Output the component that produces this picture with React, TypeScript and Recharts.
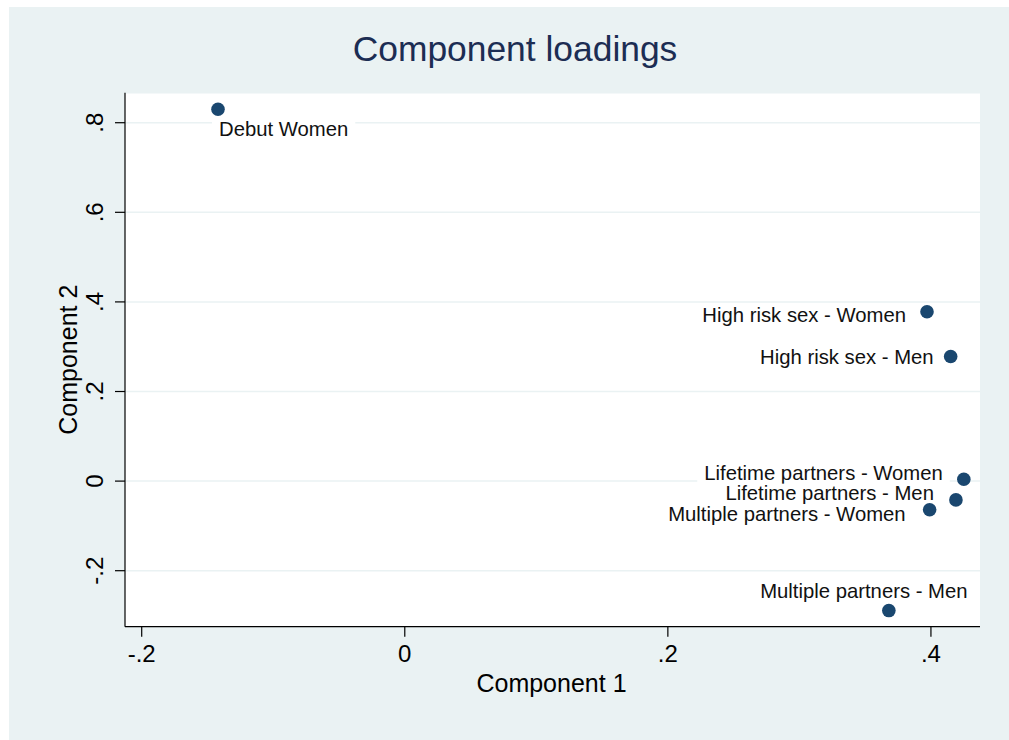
import React from "react";
import { ScatterChart, Scatter, XAxis, YAxis, CartesianGrid, Label } from "recharts";

// ---- data ----
const variableNames = [
  "Debut Women",
  "High risk sex - Women",
  "High risk sex - Men",
  "Lifetime partners - Women",
  "Lifetime partners - Men",
  "Multiple partners - Women",
  "Multiple partners - Men",
];
const component1 = [-0.142, 0.397, 0.415, 0.425, 0.419, 0.399, 0.368];
const component2 = [0.83, 0.378, 0.278, 0.004, -0.042, -0.064, -0.289];
const xTicks = [-0.2, 0, 0.2, 0.4];
const yTicks = [-0.2, 0, 0.2, 0.4, 0.6, 0.8];

// ---- label placement (style) ----
const labelAnchor = ["start", "end", "end", "end", "end", "end", "middle"];
const labelDx = [1, -21, -17, -21, -22, -24, -25];
const labelDy = [19, 3, 0, -7, -7, 3.5, -19.5];

const FONT = "'Liberation Sans', Arial, Helvetica, sans-serif";
const LABEL_FS = 20.3;
const TICK_FS = 24;
const AXIS_TITLE_FS = 25;
const DOT_COLOR = "#1a476f";
const BG = "#eaf2f3";

const points = variableNames.map((name, idx) => ({
  name,
  idx,
  x: component1[idx],
  y: component2[idx],
}));

const fmt = (v: number) => {
  if (Math.abs(v) < 1e-9) return "0";
  return v.toFixed(1).replace(/^(-?)0\./, "$1.");
};

let ctx: CanvasRenderingContext2D | null = null;
function textWidth(s: string, size: number) {
  if (!ctx && typeof document !== "undefined") {
    ctx = document.createElement("canvas").getContext("2d");
  }
  if (ctx) {
    ctx.font = `${size}px "Liberation Sans", Arial, sans-serif`;
    return ctx.measureText(s).width;
  }
  return s.length * size * 0.52;
}

const LabelShape = (props: any) => {
  const { cx, cy } = props;
  const p = props.payload ?? props;
  const i = p.idx;
  const w = textWidth(p.name, LABEL_FS);
  const anchor = labelAnchor[i];
  const tx = cx + labelDx[i];
  const mid = cy + labelDy[i];
  const baseline = mid + 0.358 * LABEL_FS;
  const capTop = baseline - 0.716 * LABEL_FS;
  const left = anchor === "start" ? tx : anchor === "end" ? tx - w : tx - w / 2;
  const pad = 7;
  return (
    <g>
      <rect
        x={left - pad}
        y={capTop - 2}
        width={w + 2 * pad}
        height={baseline + 3.5 - (capTop - 2)}
        fill="#ffffff"
      />
      <text
        x={tx}
        y={baseline}
        textAnchor={anchor as any}
        fontFamily={FONT}
        fontSize={LABEL_FS}
        fill="#111111"
      >
        {p.name}
      </text>
    </g>
  );
};

const DotShape = (props: any) => {
  const { cx, cy } = props;
  return <circle cx={cx} cy={cy} r={6.8} fill={DOT_COLOR} />;
};

const XTick = (props: any) => {
  const { x, y, payload } = props;
  return (
    <text x={x} y={y + 25.5} textAnchor="middle" fontFamily={FONT} fontSize={TICK_FS} fill="#000">
      {fmt(payload.value)}
    </text>
  );
};

const YTick = (props: any) => {
  const { x, y, payload } = props;
  const bx = x - 11.7;
  return (
    <text
      x={bx}
      y={y}
      textAnchor="middle"
      transform={`rotate(-90, ${bx}, ${y})`}
      fontFamily={FONT}
      fontSize={TICK_FS}
      fill="#000"
    >
      {fmt(payload.value)}
    </text>
  );
};

const XTitle = (props: any) => {
  const vb = props.viewBox || {};
  return (
    <text
      x={vb.x + vb.width / 2 - 1}
      y={vb.y + 65}
      textAnchor="middle"
      fontFamily={FONT}
      fontSize={AXIS_TITLE_FS}
      fill="#000"
    >
      Component 1
    </text>
  );
};

const YTitle = (props: any) => {
  const vb = props.viewBox || {};
  const bx = 67.7;
  const cy = vb.y + vb.height / 2;
  return (
    <text
      x={bx}
      y={cy}
      textAnchor="middle"
      transform={`rotate(-90, ${bx}, ${cy})`}
      fontFamily={FONT}
      fontSize={AXIS_TITLE_FS}
      fill="#000"
    >
      Component 2
    </text>
  );
};

export default function App() {
  return (
    <div
      style={{
        position: "absolute",
        left: 9,
        top: 7,
        width: 1000,
        height: 733,
        background: BG,
      }}
    >
      <div
        style={{
          position: "absolute",
          left: 206,
          top: 24.5,
          width: 600,
          textAlign: "center",
          fontFamily: FONT,
          fontSize: 35.4,
          lineHeight: "35.4px",
          color: "#1c2d53",
          whiteSpace: "nowrap",
        }}
      >
        Component loadings
      </div>
      <ScatterChart
        width={1000}
        height={733}
        margin={{ top: 85.7, right: 29, bottom: 53.3, left: 0 }}
        style={{ position: "absolute", left: 0, top: 0 }}
      >
        <CartesianGrid vertical={false} stroke={BG} strokeWidth={1.5} fill="#ffffff" />
        <XAxis
          type="number"
          dataKey="x"
          domain={[-0.2127, 0.4373]}
          ticks={xTicks}
          allowDataOverflow
          height={60}
          tickSize={10}
          tickMargin={0}
          tick={<XTick />}
          axisLine={{ stroke: "#000", strokeWidth: 1.2 }}
          tickLine={{ stroke: "#000", strokeWidth: 1.2 }}
        >
          <Label content={<XTitle />} />
        </XAxis>
        <YAxis
          type="number"
          dataKey="y"
          domain={[-0.325, 0.867]}
          ticks={yTicks}
          allowDataOverflow
          width={116}
          tickSize={10}
          tickMargin={0}
          tick={<YTick />}
          axisLine={{ stroke: "#000", strokeWidth: 1.2 }}
          tickLine={{ stroke: "#000", strokeWidth: 1.2 }}
        >
          <Label content={<YTitle />} />
        </YAxis>
        <Scatter data={points} shape={<LabelShape />} isAnimationActive={false} />
        <Scatter data={points} shape={<DotShape />} isAnimationActive={false} />
      </ScatterChart>
    </div>
  );
}
